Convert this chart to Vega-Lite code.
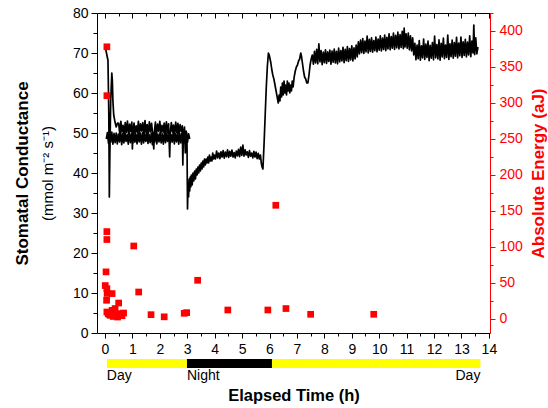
{
  "$schema": "https://vega.github.io/schema/vega-lite/v6.json",
  "background": "white",
  "padding": {"left": 13, "top": 6, "right": 0, "bottom": 0},
  "config": {
    "view": {"stroke": null},
    "font": "Liberation Sans",
    "axis": {"labelFont": "Liberation Sans", "titleFont": "Liberation Sans", "grid": false, "domainColor": "#000000", "tickColor": "#000000", "labelColor": "#000000", "titleColor": "#000000", "domainWidth": 1, "tickWidth": 1, "labelFontSize": 14}
  },
  "spacing": 3,
  "datasets": {
    "gs": [
      {"s":"a","t":0.02,"g":71.3},{"s":"a","t":0.06,"g":69.8},{"s":"a","t":0.11,"g":68.2},{"s":"a","t":0.14,"g":55},{"s":"a","t":0.16,"g":34},{"s":"a","t":0.18,"g":45},{"s":"a","t":0.21,"g":58},{"s":"a","t":0.25,"g":65},{"s":"a","t":0.27,"g":63},{"s":"a","t":0.29,"g":58},{"s":"a","t":0.32,"g":54.5},{"s":"a","t":0.36,"g":53},{"s":"a","t":0.41,"g":51.5},{"s":"a","t":0.46,"g":52.5},
      {"s":"a","t":0.50,"g":52.4},{"s":"a","t":0.54,"g":49.8},{"s":"a","t":0.58,"g":52.9},{"s":"a","t":0.62,"g":50.3},{"s":"a","t":0.66,"g":51.9},{"s":"a","t":0.70,"g":49.5},{"s":"a","t":0.74,"g":52.6},{"s":"a","t":0.78,"g":50.1},{"s":"a","t":0.82,"g":53.0},{"s":"a","t":0.86,"g":49.7},{"s":"a","t":0.90,"g":52.2},{"s":"a","t":0.94,"g":50.4},{"s":"a","t":0.98,"g":52.7},{"s":"a","t":1.00,"g":46.0},{"s":"a","t":1.02,"g":50.0},{"s":"a","t":1.06,"g":52.5},{"s":"a","t":1.10,"g":49.6},{"s":"a","t":1.14,"g":51.8},{"s":"a","t":1.18,"g":50.2},{"s":"a","t":1.22,"g":52.9},{"s":"a","t":1.26,"g":49.9},{"s":"a","t":1.30,"g":52.3},{"s":"a","t":1.34,"g":50.5},{"s":"a","t":1.38,"g":52.6},{"s":"a","t":1.42,"g":49.4},{"s":"a","t":1.46,"g":53.1},{"s":"a","t":1.50,"g":50.0},{"s":"a","t":1.54,"g":52.1},{"s":"a","t":1.58,"g":49.7},{"s":"a","t":1.62,"g":52.8},{"s":"a","t":1.66,"g":50.3},{"s":"a","t":1.70,"g":52.4},{"s":"a","t":1.74,"g":49.8},{"s":"a","t":1.78,"g":46.0},{"s":"a","t":1.80,"g":50.1},{"s":"a","t":1.84,"g":52.7},{"s":"a","t":1.88,"g":49.6},{"s":"a","t":1.92,"g":52.2},{"s":"a","t":1.96,"g":50.4},{"s":"a","t":2.00,"g":52.9},{"s":"a","t":2.04,"g":49.9},{"s":"a","t":2.08,"g":51.9},{"s":"a","t":2.12,"g":50.2},{"s":"a","t":2.16,"g":52.5},{"s":"a","t":2.20,"g":49.5},{"s":"a","t":2.24,"g":52.8},{"s":"a","t":2.28,"g":50.0},{"s":"a","t":2.32,"g":52.3},{"s":"a","t":2.36,"g":44.0},{"s":"a","t":2.38,"g":49.7},{"s":"a","t":2.42,"g":52.6},{"s":"a","t":2.46,"g":50.3},{"s":"a","t":2.50,"g":52.0},{"s":"a","t":2.54,"g":49.6},{"s":"a","t":2.58,"g":52.7},{"s":"a","t":2.62,"g":50.1},{"s":"a","t":2.66,"g":52.4},{"s":"a","t":2.70,"g":49.8},{"s":"a","t":2.74,"g":52.1},{"s":"a","t":2.78,"g":50.4},{"s":"a","t":2.82,"g":51.8},{"s":"a","t":2.84,"g":42.0},{"s":"a","t":2.86,"g":49.9},{"s":"a","t":2.90,"g":51.5},{"s":"a","t":2.93,"g":45.0},{"s":"a","t":2.96,"g":50.5},{"s":"a","t":2.99,"g":49.0},{"s":"a","t":3.01,"g":31.0},
      {"s":"a","t":3.03,"g":37.5},{"s":"a","t":3.05,"g":34.0},{"s":"a","t":3.07,"g":38.5},{"s":"a","t":3.09,"g":35.5},{"s":"a","t":3.11,"g":39.0},{"s":"a","t":3.13,"g":36.5},{"s":"a","t":3.15,"g":39.5},{"s":"a","t":3.18,"g":37.0},{"s":"a","t":3.21,"g":40.0},{"s":"a","t":3.24,"g":38.0},{"s":"a","t":3.27,"g":40.5},{"s":"a","t":3.30,"g":38.5},{"s":"a","t":3.33,"g":41.0},{"s":"a","t":3.36,"g":39.5},{"s":"a","t":3.39,"g":41.5},{"s":"a","t":3.42,"g":40.0},{"s":"a","t":3.45,"g":42.0},{"s":"a","t":3.48,"g":40.5},{"s":"a","t":3.51,"g":42.5},{"s":"a","t":3.54,"g":41.0},{"s":"a","t":3.57,"g":43.0},{"s":"a","t":3.60,"g":41.5},{"s":"a","t":3.63,"g":43.5},{"s":"a","t":3.66,"g":42.0},{"s":"a","t":3.69,"g":43.5},{"s":"a","t":3.72,"g":42.5},{"s":"a","t":3.75,"g":44.0},{"s":"a","t":3.78,"g":42.5},{"s":"a","t":3.81,"g":44.5},{"s":"a","t":3.84,"g":43.0},{"s":"a","t":3.87,"g":44.0},{"s":"a","t":3.90,"g":43.0},{"s":"a","t":3.93,"g":45.0},{"s":"a","t":3.96,"g":43.5},{"s":"a","t":3.99,"g":44.5},{"s":"a","t":4.03,"g":43.5},{"s":"a","t":4.07,"g":45.5},{"s":"a","t":4.11,"g":43.8},{"s":"a","t":4.15,"g":45.0},{"s":"a","t":4.19,"g":43.6},{"s":"a","t":4.23,"g":45.3},{"s":"a","t":4.27,"g":44.0},{"s":"a","t":4.31,"g":45.6},{"s":"a","t":4.35,"g":43.7},{"s":"a","t":4.39,"g":45.2},{"s":"a","t":4.43,"g":44.1},{"s":"a","t":4.47,"g":45.8},{"s":"a","t":4.51,"g":43.9},{"s":"a","t":4.55,"g":45.4},{"s":"a","t":4.59,"g":44.2},{"s":"a","t":4.63,"g":45.7},{"s":"a","t":4.67,"g":44.0},{"s":"a","t":4.71,"g":45.1},{"s":"a","t":4.75,"g":43.8},{"s":"a","t":4.79,"g":45.5},{"s":"a","t":4.83,"g":44.3},{"s":"a","t":4.87,"g":45.9},{"s":"a","t":4.91,"g":44.1},{"s":"a","t":4.95,"g":46.5},{"s":"a","t":4.99,"g":44.4},{"s":"a","t":5.03,"g":47.0},{"s":"a","t":5.07,"g":44.2},{"s":"a","t":5.11,"g":45.8},{"s":"a","t":5.15,"g":44.5},{"s":"a","t":5.19,"g":45.3},{"s":"a","t":5.23,"g":43.9},{"s":"a","t":5.27,"g":45.6},{"s":"a","t":5.31,"g":44.2},{"s":"a","t":5.35,"g":45.0},{"s":"a","t":5.39,"g":43.8},{"s":"a","t":5.43,"g":45.4},{"s":"a","t":5.47,"g":44.0},{"s":"a","t":5.51,"g":45.2},{"s":"a","t":5.55,"g":43.6},{"s":"a","t":5.59,"g":44.9},{"s":"a","t":5.63,"g":43.5},{"s":"a","t":5.67,"g":44.5},{"s":"a","t":5.70,"g":42.5},{"s":"a","t":5.73,"g":41.5},{"s":"a","t":5.76,"g":41.0},
      {"s":"a","t":5.80,"g":47.0},{"s":"a","t":5.84,"g":54.0},{"s":"a","t":5.88,"g":61.0},{"s":"a","t":5.92,"g":66.5},{"s":"a","t":5.96,"g":70.0},{"s":"a","t":5.99,"g":69.5},{"s":"a","t":6.02,"g":68.5},{"s":"a","t":6.05,"g":67.5},{"s":"a","t":6.08,"g":66.0},{"s":"a","t":6.12,"g":64.5},{"s":"a","t":6.16,"g":63.5},{"s":"a","t":6.20,"g":62.0},{"s":"a","t":6.24,"g":60.5},{"s":"a","t":6.28,"g":59.0},{"s":"a","t":6.32,"g":57.5},{"s":"a","t":6.35,"g":59.5},{"s":"a","t":6.38,"g":58.0},{"s":"a","t":6.41,"g":61.5},{"s":"a","t":6.44,"g":59.0},{"s":"a","t":6.47,"g":62.5},{"s":"a","t":6.50,"g":59.5},{"s":"a","t":6.53,"g":63.0},{"s":"a","t":6.56,"g":60.0},{"s":"a","t":6.59,"g":62.0},{"s":"a","t":6.62,"g":59.5},{"s":"a","t":6.65,"g":63.0},{"s":"a","t":6.68,"g":60.5},{"s":"a","t":6.71,"g":62.5},{"s":"a","t":6.74,"g":60.0},{"s":"a","t":6.77,"g":62.0},{"s":"a","t":6.80,"g":60.5},{"s":"a","t":6.83,"g":63.0},{"s":"a","t":6.86,"g":61.5},{"s":"a","t":6.90,"g":64.0},{"s":"a","t":6.94,"g":65.5},{"s":"a","t":6.98,"g":66.5},{"s":"a","t":7.02,"g":67.0},{"s":"a","t":7.06,"g":68.0},{"s":"a","t":7.10,"g":68.5},{"s":"a","t":7.14,"g":70.0},{"s":"a","t":7.17,"g":69.0},{"s":"a","t":7.20,"g":67.5},{"s":"a","t":7.24,"g":65.5},{"s":"a","t":7.28,"g":64.0},{"s":"a","t":7.32,"g":63.5},{"s":"a","t":7.36,"g":62.5},{"s":"a","t":7.40,"g":62.5},{"s":"a","t":7.44,"g":64.5},{"s":"a","t":7.48,"g":67.0},{"s":"a","t":7.52,"g":68.5},{"s":"a","t":7.56,"g":69.5},
      {"s":"a","t":7.60,"g":67.2},{"s":"a","t":7.64,"g":70.4},{"s":"a","t":7.68,"g":67.5},{"s":"a","t":7.72,"g":70.9},{"s":"a","t":7.76,"g":67.3},{"s":"a","t":7.80,"g":72.3},{"s":"a","t":7.84,"g":67.8},{"s":"a","t":7.88,"g":70.6},{"s":"a","t":7.92,"g":67.1},{"s":"a","t":7.96,"g":70.2},{"s":"a","t":8.00,"g":67.6},{"s":"a","t":8.04,"g":70.8},{"s":"a","t":8.08,"g":67.4},{"s":"a","t":8.12,"g":70.3},{"s":"a","t":8.16,"g":67.9},{"s":"a","t":8.20,"g":70.7},{"s":"a","t":8.24,"g":67.2},{"s":"a","t":8.28,"g":70.5},{"s":"a","t":8.32,"g":67.7},{"s":"a","t":8.36,"g":71.0},{"s":"a","t":8.40,"g":67.5},{"s":"a","t":8.44,"g":70.4},{"s":"a","t":8.48,"g":67.3},{"s":"a","t":8.52,"g":71.2},{"s":"a","t":8.56,"g":67.8},{"s":"a","t":8.60,"g":70.6},{"s":"a","t":8.64,"g":68.0},{"s":"a","t":8.68,"g":71.4},{"s":"a","t":8.72,"g":67.6},{"s":"a","t":8.76,"g":70.9},{"s":"a","t":8.80,"g":68.1},{"s":"a","t":8.84,"g":71.6},{"s":"a","t":8.88,"g":67.9},{"s":"a","t":8.92,"g":71.1},{"s":"a","t":8.96,"g":68.3},{"s":"a","t":9.00,"g":71.8},{"s":"a","t":9.04,"g":68.0},{"s":"a","t":9.08,"g":71.3},{"s":"a","t":9.12,"g":68.5},{"s":"a","t":9.16,"g":72.0},{"s":"a","t":9.20,"g":69.0},{"s":"a","t":9.24,"g":72.8},
      {"s":"a","t":9.28,"g":69.8},{"s":"a","t":9.32,"g":73.2},{"s":"a","t":9.36,"g":70.1},{"s":"a","t":9.40,"g":73.6},{"s":"a","t":9.44,"g":69.9},{"s":"a","t":9.48,"g":73.0},{"s":"a","t":9.52,"g":70.3},{"s":"a","t":9.56,"g":74.2},{"s":"a","t":9.60,"g":70.0},{"s":"a","t":9.64,"g":73.4},{"s":"a","t":9.68,"g":70.4},{"s":"a","t":9.72,"g":73.8},{"s":"a","t":9.76,"g":70.2},{"s":"a","t":9.80,"g":73.1},{"s":"a","t":9.84,"g":70.6},{"s":"a","t":9.88,"g":74.0},{"s":"a","t":9.92,"g":70.3},{"s":"a","t":9.96,"g":73.5},{"s":"a","t":10.00,"g":70.7},{"s":"a","t":10.04,"g":74.3},{"s":"a","t":10.08,"g":70.5},{"s":"a","t":10.12,"g":73.7},{"s":"a","t":10.16,"g":70.9},{"s":"a","t":10.20,"g":74.5},{"s":"a","t":10.24,"g":70.6},{"s":"a","t":10.28,"g":73.9},{"s":"a","t":10.32,"g":71.0},{"s":"a","t":10.36,"g":74.8},{"s":"a","t":10.40,"g":70.8},{"s":"a","t":10.44,"g":74.1},{"s":"a","t":10.48,"g":71.2},{"s":"a","t":10.52,"g":75.0},{"s":"a","t":10.56,"g":70.9},{"s":"a","t":10.60,"g":74.4},{"s":"a","t":10.64,"g":71.3},{"s":"a","t":10.68,"g":75.2},{"s":"a","t":10.72,"g":71.0},{"s":"a","t":10.76,"g":74.6},{"s":"a","t":10.80,"g":71.4},{"s":"a","t":10.84,"g":75.4},{"s":"a","t":10.88,"g":71.1},{"s":"a","t":10.91,"g":76.2},{"s":"a","t":10.94,"g":71.5},{"s":"a","t":10.98,"g":74.8},{"s":"a","t":11.02,"g":71.2},{"s":"a","t":11.06,"g":75.0},{"s":"a","t":11.10,"g":70.8},{"s":"a","t":11.14,"g":74.3},{"s":"a","t":11.18,"g":70.5},{"s":"a","t":11.22,"g":73.8},{"s":"a","t":11.26,"g":69.5},{"s":"a","t":11.30,"g":72.4},
      {"s":"a","t":11.34,"g":68.3},{"s":"a","t":11.38,"g":72.0},{"s":"a","t":11.42,"g":68.6},{"s":"a","t":11.46,"g":73.1},{"s":"a","t":11.50,"g":68.2},{"s":"a","t":11.54,"g":71.8},{"s":"a","t":11.58,"g":68.8},{"s":"a","t":11.62,"g":73.5},{"s":"a","t":11.66,"g":68.4},{"s":"a","t":11.70,"g":72.2},{"s":"a","t":11.74,"g":68.9},{"s":"a","t":11.78,"g":73.0},{"s":"a","t":11.82,"g":68.1},{"s":"a","t":11.86,"g":71.9},{"s":"a","t":11.90,"g":68.7},{"s":"a","t":11.94,"g":72.6},{"s":"a","t":11.98,"g":68.3},{"s":"a","t":12.02,"g":74.2},{"s":"a","t":12.06,"g":68.8},{"s":"a","t":12.10,"g":72.1},{"s":"a","t":12.14,"g":68.5},{"s":"a","t":12.18,"g":73.3},{"s":"a","t":12.22,"g":68.2},{"s":"a","t":12.26,"g":72.4},{"s":"a","t":12.30,"g":69.0},{"s":"a","t":12.34,"g":73.7},{"s":"a","t":12.38,"g":68.6},{"s":"a","t":12.42,"g":72.0},{"s":"a","t":12.46,"g":68.9},{"s":"a","t":12.50,"g":74.5},{"s":"a","t":12.54,"g":68.4},{"s":"a","t":12.58,"g":72.3},{"s":"a","t":12.62,"g":69.1},{"s":"a","t":12.66,"g":73.2},{"s":"a","t":12.70,"g":68.7},{"s":"a","t":12.74,"g":72.6},{"s":"a","t":12.78,"g":69.2},{"s":"a","t":12.82,"g":73.9},{"s":"a","t":12.86,"g":68.8},{"s":"a","t":12.90,"g":72.5},{"s":"a","t":12.94,"g":69.3},{"s":"a","t":12.98,"g":74.0},{"s":"a","t":13.02,"g":68.9},{"s":"a","t":13.06,"g":72.8},{"s":"a","t":13.10,"g":69.4},{"s":"a","t":13.14,"g":73.4},{"s":"a","t":13.18,"g":69.0},{"s":"a","t":13.22,"g":72.7},{"s":"a","t":13.26,"g":69.5},{"s":"a","t":13.30,"g":74.3},{"s":"a","t":13.34,"g":69.1},{"s":"a","t":13.38,"g":73.0},{"s":"a","t":13.42,"g":70.0},{"s":"a","t":13.45,"g":77.0},{"s":"a","t":13.48,"g":69.6},{"s":"a","t":13.52,"g":73.8},{"s":"a","t":13.56,"g":69.8},{"s":"a","t":13.60,"g":71.5},
      {"s":"b","t":0.05,"g":48.5},{"s":"b","t":0.09,"g":50.1},{"s":"b","t":0.13,"g":47.4},{"s":"b","t":0.17,"g":49.8},{"s":"b","t":0.21,"g":47.7},{"s":"b","t":0.25,"g":50.2},{"s":"b","t":0.29,"g":47.2},{"s":"b","t":0.33,"g":49.9},{"s":"b","t":0.37,"g":47.6},{"s":"b","t":0.41,"g":50.0},{"s":"b","t":0.45,"g":47.3},{"s":"b","t":0.49,"g":49.7},{"s":"b","t":0.53,"g":47.8},{"s":"b","t":0.57,"g":50.3},{"s":"b","t":0.61,"g":47.1},{"s":"b","t":0.65,"g":49.9},{"s":"b","t":0.69,"g":47.5},{"s":"b","t":0.73,"g":50.1},{"s":"b","t":0.77,"g":47.9},{"s":"b","t":0.81,"g":49.6},{"s":"b","t":0.85,"g":47.2},{"s":"b","t":0.89,"g":50.2},{"s":"b","t":0.93,"g":47.6},{"s":"b","t":0.97,"g":49.8},{"s":"b","t":1.01,"g":47.4},{"s":"b","t":1.05,"g":50.0},{"s":"b","t":1.09,"g":47.7},{"s":"b","t":1.13,"g":49.7},{"s":"b","t":1.17,"g":47.3},{"s":"b","t":1.21,"g":50.3},{"s":"b","t":1.25,"g":47.8},{"s":"b","t":1.29,"g":49.9},{"s":"b","t":1.33,"g":47.2},{"s":"b","t":1.37,"g":50.1},{"s":"b","t":1.41,"g":47.5},{"s":"b","t":1.45,"g":49.8},{"s":"b","t":1.49,"g":47.9},{"s":"b","t":1.53,"g":50.2},{"s":"b","t":1.57,"g":47.4},{"s":"b","t":1.61,"g":49.6},{"s":"b","t":1.65,"g":47.6},{"s":"b","t":1.69,"g":50.0},{"s":"b","t":1.73,"g":47.1},{"s":"b","t":1.77,"g":49.9},{"s":"b","t":1.81,"g":47.7},{"s":"b","t":1.85,"g":50.3},{"s":"b","t":1.89,"g":47.3},{"s":"b","t":1.93,"g":49.7},{"s":"b","t":1.97,"g":47.8},{"s":"b","t":2.01,"g":50.1},{"s":"b","t":2.05,"g":47.5},{"s":"b","t":2.09,"g":49.8},{"s":"b","t":2.13,"g":47.2},{"s":"b","t":2.17,"g":50.2},{"s":"b","t":2.21,"g":47.6},{"s":"b","t":2.25,"g":49.9},{"s":"b","t":2.29,"g":47.9},{"s":"b","t":2.33,"g":50.0},{"s":"b","t":2.37,"g":47.4},{"s":"b","t":2.41,"g":49.6},{"s":"b","t":2.45,"g":47.7},{"s":"b","t":2.49,"g":50.3},{"s":"b","t":2.53,"g":47.3},{"s":"b","t":2.57,"g":49.8},{"s":"b","t":2.61,"g":47.8},{"s":"b","t":2.65,"g":50.1},{"s":"b","t":2.69,"g":47.2},{"s":"b","t":2.73,"g":49.9},{"s":"b","t":2.77,"g":47.5},{"s":"b","t":2.81,"g":50.0},{"s":"b","t":2.85,"g":47.6},{"s":"b","t":2.89,"g":49.7},{"s":"b","t":2.93,"g":47.4},{"s":"b","t":2.97,"g":50.2},{"s":"b","t":3.01,"g":47.7},{"s":"b","t":3.05,"g":49.8},{"s":"b","t":3.09,"g":48.5}
    ],
    "ae": [
      {"t":0.07,"e":378},{"t":0.07,"e":310},{"t":0.07,"e":121},{"t":0.07,"e":110},{"t":1.05,"e":101},{"t":0.04,"e":65},{"t":0.01,"e":46},{"t":0.07,"e":41.7},{"t":0.26,"e":34.8},{"t":0.08,"e":35},{"t":0.06,"e":25.5},{"t":0.5,"e":21.7},{"t":0.37,"e":14},{"t":0.26,"e":11.5},{"t":0.07,"e":9.2},{"t":0.12,"e":7},{"t":0.19,"e":4.6},{"t":0.38,"e":4.6},{"t":0.46,"e":2.2},{"t":0.56,"e":7},{"t":0.68,"e":7.8},{"t":0.62,"e":4},{"t":0.3,"e":3},{"t":0.5,"e":5},{"t":0.15,"e":6},{"t":1.23,"e":37},{"t":1.68,"e":5.5},{"t":2.16,"e":2.5},{"t":2.89,"e":7.4},{"t":2.98,"e":8.3},{"t":3.38,"e":53.3},{"t":4.48,"e":12},{"t":5.94,"e":12},{"t":6.23,"e":157.6},{"t":6.6,"e":14},{"t":7.5,"e":6},{"t":9.8,"e":6}
    ],
    "dn": [
      {"t0":0.07,"t1":2.99,"p":"day"},{"t0":2.99,"t1":6.09,"p":"night"},{"t0":6.09,"t1":13.69,"p":"day"}
    ],
    "lb": [
      {"t":0.07,"txt":"Day","side":"l"},{"t":2.99,"txt":"Night","side":"l"},{"t":13.69,"txt":"Day","side":"r"}
    ]
  },
  "vconcat": [
    {
      "width": 393,
      "height": 320,
      "layer": [
        {
          "data": {"name": "gs"},
          "mark": {"type": "line", "color": "#000000", "strokeWidth": 1.7, "strokeJoin": "round"},
          "encoding": {
            "x": {"field": "t", "type": "quantitative", "scale": {"domain": [-0.29, 14.04], "nice": false, "zero": false},
              "axis": {"orient": "bottom", "title": null, "values": [0,0.5,1,1.5,2,2.5,3,3.5,4,4.5,5,5.5,6,6.5,7,7.5,8,8.5,9,9.5,10,10.5,11,11.5,12,12.5,13,13.5,14],
                "labelExpr": "datum.value % 1 === 0 ? format(datum.value, 'd') : ''", "tickSize": {"condition": {"test": "datum.value % 1 === 0", "value": 5}, "value": 3},
                "labelPadding": 4, "labelFlush": false, "labelOverlap": false}},
            "y": {"field": "g", "type": "quantitative", "scale": {"domain": [0, 80], "nice": false},
              "axis": {"orient": "left", "values": [0,5,10,15,20,25,30,35,40,45,50,55,60,65,70,75,80],
                "labelExpr": "datum.value % 10 === 0 ? format(datum.value, 'd') : ''", "tickSize": {"condition": {"test": "datum.value % 10 === 0", "value": 6}, "value": 4},
                "labelPadding": 3, "labelOverlap": false, "labelFlush": false,
                "title": "(mmol m⁻² s⁻¹)", "titleFontWeight": "normal", "titleFontSize": 15, "titlePadding": 17}},
            "detail": {"field": "s", "type": "nominal"}
          }
        },
        {
          "data": {"name": "ae"},
          "mark": {"type": "square", "color": "#ff0000", "opacity": 1, "size": 45},
          "encoding": {
            "x": {"field": "t", "type": "quantitative", "scale": {"domain": [-0.29, 14.04], "nice": false, "zero": false}, "axis": null},
            "y": {"field": "e", "type": "quantitative", "scale": {"domain": [-20, 425], "nice": false, "zero": false},
              "axis": {"orient": "right", "values": [0,25,50,75,100,125,150,175,200,225,250,275,300,325,350,375,400,425],
                "labelExpr": "datum.value % 50 === 0 ? format(datum.value, 'd') : ''", "tickSize": {"condition": {"test": "datum.value % 50 === 0", "value": 5}, "value": 3},
                "labelPadding": 4, "labelOverlap": false, "labelFlush": false,
                "domainColor": "#ff0000", "tickColor": "#ff0000", "labelColor": "#ff0000",
                "title": "Absolute Energy (aJ)", "titleColor": "#ff0000", "titleFontSize": 17, "titleFontWeight": "bold", "titleAngle": 270, "titleBaseline": "top", "titlePadding": 8}}
          }
        },
        {
          "data": {"values": [{"t": 0, "g": 0}]},
          "mark": {"type": "point", "opacity": 0},
          "encoding": {
            "x": {"field": "t", "type": "quantitative", "scale": {"domain": [-0.29, 14.04], "nice": false, "zero": false},
              "axis": {"orient": "top", "title": null, "labels": false, "values": [0,0.5,1,1.5,2,2.5,3,3.5,4,4.5,5,5.5,6,6.5,7,7.5,8,8.5,9,9.5,10,10.5,11,11.5,12,12.5,13,13.5,14],
                "tickSize": {"condition": {"test": "datum.value % 1 === 0", "value": -5}, "value": -3}}},
            "y": {"field": "g", "type": "quantitative", "scale": {"domain": [0, 80], "nice": false},
              "axis": {"orient": "left", "labels": false, "ticks": false, "domain": false,
                "title": "Stomatal Conductance", "titleFontSize": 17, "titleFontWeight": "bold", "titlePadding": 66}}
          }
        }
      ],
      "resolve": {"scale": {"x": "independent", "y": "independent"}}
    },
    {
      "width": 393,
      "height": 9,
      "layer": [
        {
          "data": {"name": "dn"},
          "mark": {"type": "rect"},
          "encoding": {
            "x": {"field": "t0", "type": "quantitative", "scale": {"domain": [-0.29, 14.04], "nice": false, "zero": false},
              "axis": {"title": "Elapsed Time (h)", "labels": false, "ticks": false, "domain": false, "titleFontSize": 16.5, "titleFontWeight": "bold", "titlePadding": 19}},
            "x2": {"field": "t1"},
            "color": {"field": "p", "type": "nominal", "scale": {"domain": ["day", "night"], "range": ["#ffff00", "#000000"]}, "legend": null}
          }
        },
        {
          "data": {"name": "lb"},
          "transform": [{"filter": "datum.side === 'l'"}],
          "mark": {"type": "text", "align": "left", "baseline": "alphabetic", "dy": 16.5, "fontSize": 14, "font": "Liberation Sans", "color": "#000000"},
          "encoding": {
            "x": {"field": "t", "type": "quantitative", "scale": {"domain": [-0.29, 14.04], "nice": false, "zero": false},
              "axis": {"title": "Elapsed Time (h)", "labels": false, "ticks": false, "domain": false, "titleFontSize": 16.5, "titleFontWeight": "bold", "titlePadding": 19}},
            "text": {"field": "txt"}
          }
        },
        {
          "data": {"name": "lb"},
          "transform": [{"filter": "datum.side === 'r'"}],
          "mark": {"type": "text", "align": "right", "baseline": "alphabetic", "dy": 16.5, "fontSize": 14, "font": "Liberation Sans", "color": "#000000"},
          "encoding": {
            "x": {"field": "t", "type": "quantitative", "scale": {"domain": [-0.29, 14.04], "nice": false, "zero": false},
              "axis": {"title": "Elapsed Time (h)", "labels": false, "ticks": false, "domain": false, "titleFontSize": 16.5, "titleFontWeight": "bold", "titlePadding": 19}},
            "text": {"field": "txt"}
          }
        }
      ]
    }
  ]
}
